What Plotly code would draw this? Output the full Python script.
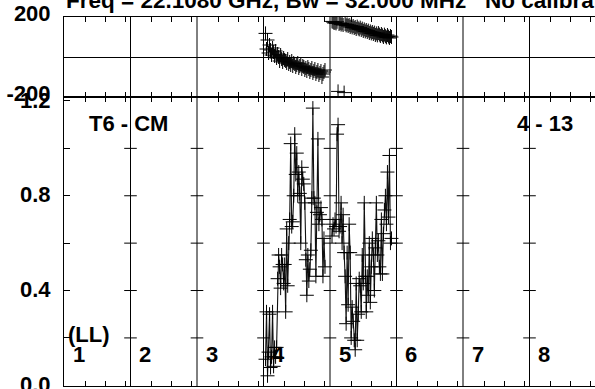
import plotly.graph_objects as go

# ---------------- data ----------------
panel_labels = ["1", "2", "3", "4", "5", "6", "7", "8"]
panel_width = 66                      # channel units per baseline panel
channels = list(range(1, 61))
tick_channels = [20, 40, 60]

amp_p4 = [0.11, 0.31, 0.04, 0.14, 0.30, 0.075, 0.12, 0.31, 0.08, 0.16,
          0.12, 0.16, 0.45, 0.55, 0.50, 0.41, 0.55, 0.51, 0.43, 0.51,
          0.31, 0.66, 0.42, 0.60, 0.70, 1.02, 0.67, 0.69, 0.80, 1.06,
          0.89, 0.98, 0.80, 0.90, 0.81, 0.60, 0.92, 0.87, 0.85, 0.77,
          0.53, 0.38, 0.55, 0.44, 0.49, 0.57, 0.79, 1.17, 0.79, 0.77,
          0.46, 0.73, 1.04, 0.68, 0.72, 0.75, 0.70, 0.46, 0.62, 0.50]
amp_p5 = [0.63, 0.68, 0.66, 0.70, 0.67, 1.06, 1.10, 0.65, 0.67, 0.77,
          0.60, 0.72, 0.56, 0.46, 0.26, 0.56, 0.34, 0.68, 0.56, 0.20,
          0.33, 0.27, 0.19, 0.15, 0.43, 0.19, 0.30, 0.45, 0.42, 0.31,
          0.55, 0.43, 0.77, 0.46, 0.31, 0.46, 0.38, 0.60, 0.35, 0.50,
          0.62, 0.55, 0.40, 0.58, 0.77, 0.55, 0.61, 0.50, 0.47, 0.70,
          0.47, 0.64, 0.74, 0.80, 0.68, 0.90, 0.71, 0.97, 0.60, 0.62]
phase_p4 = [118, 40, 85, 20, 60, 35, 10, 45, 25, 5,
            30, -5, 15, 0, -20, 10, -10, -25, -5, -15,
            -20, -30, -10, -35, -25, -40, -20, -45, -30, -35,
            -50, -40, -30, -55, -45, -35, -60, -45, -50, -65,
            -55, -70, -50, -60, -75, -65, -55, -80, -70, -60,
            -85, -75, -65, -90, -80, -70, -100, -85, -75, -65]
phase_p5 = [178, 175, 170, 172, 168, 176, -172, 165, 170, 162,
            168, 160, -178, 165, 158, 163, 155, 160, 150, 157,
            148, 155, 145, 150, 140, 152, 143, 138, 147, 135,
            142, 130, 138, 128, 135, 125, 132, 120, 128, 118,
            125, 115, 122, 110, 118, 108, 120, 112, 105, 115,
            108, 100, 112, 104, 98, 110, 102, 95, 105, 100]

amp_tickvals = [0.0, 0.2, 0.4, 0.6, 0.8, 1.0, 1.2]
amp_ticktext = ["0.0", "", "0.4", "", "0.8", "", "1.2"]
phase_tickvals = [-200, 200]
phase_ticktext = ["-200", "200"]
boundary_tick_amps = [0.2, 0.4, 0.6, 0.8, 1.0]

title_main = "Freq = 22.1080 GHz, Bw = 32.000 MHz"
title_tail = "No calibration"
source_text = "T6 - CM"
scan_text = "4 - 13"
pol_text = "(LL)"

# ---------------- figure ----------------
def xpos(panel_index, chans):
    return [panel_index * panel_width + c + 1 for c in chans]

INK = "#000000"
FONT = dict(family="Liberation Sans, Arial, sans-serif", size=22, color=INK, weight="bold")
cross = dict(symbol="cross-thin-open", size=10, line=dict(color=INK, width=1), color=INK)

fig = go.Figure()

# amplitude (lower panel)
for p, amp in [(3, amp_p4), (4, amp_p5)]:
    fig.add_trace(go.Scatter(x=xpos(p, channels), y=amp, mode="lines+markers",
                             line=dict(color="#111111", width=1.1), marker=cross,
                             xaxis="x", yaxis="y", showlegend=False, hoverinfo="skip"))
# phase (upper panel)
for p, ph in [(3, phase_p4), (4, phase_p5)]:
    fig.add_trace(go.Scatter(x=xpos(p, channels), y=ph, mode="markers", marker=cross,
                             xaxis="x2", yaxis="y2", showlegend=False, hoverinfo="skip"))

# y-ticks drawn on each inner panel boundary
bx, by = [], []
for p in range(1, len(panel_labels)):
    for a in boundary_tick_amps:
        bx.append(p * panel_width)
        by.append(a)
fig.add_trace(go.Scatter(x=bx, y=by, mode="markers",
                         marker=dict(symbol="line-ew-open", size=9, color=INK,
                                     line=dict(color=INK, width=1)),
                         xaxis="x", yaxis="y", showlegend=False, hoverinfo="skip"))

# panel boundary lines
for p in range(1, len(panel_labels)):
    fig.add_shape(type="line", xref="x", yref="paper", x0=p * panel_width, x1=p * panel_width,
                  y0=0, y1=1, line=dict(color=INK, width=1))

xtickvals = [p * panel_width + c + 1 for p in range(len(panel_labels)) for c in tick_channels]
split = 1 - 80 / 369
xcommon = dict(range=[0, 527], tickvals=xtickvals, ticks="inside", ticklen=5, tickwidth=1,
               tickcolor=INK, showticklabels=False, showline=True, linecolor=INK, linewidth=1,
               mirror="ticks", showgrid=False, zeroline=False, fixedrange=True, automargin=False)

fig.update_layout(
    width=595, height=389,
    margin=dict(l=64, r=0, t=17, b=3),
    paper_bgcolor="white", plot_bgcolor="white",
    font=FONT,
    xaxis=dict(anchor="y", **xcommon),
    xaxis2=dict(anchor="y2", matches="x", **xcommon),
    yaxis=dict(domain=[0, split], range=[-0.003, 289 / 237.5], tickvals=amp_tickvals,
               ticktext=amp_ticktext, ticks="inside", ticklen=6, tickcolor=INK,
               showline=True, linecolor=INK, linewidth=1, showgrid=False, zeroline=False,
               tickfont=FONT, ticklabelstandoff=8, ticklabelshift=-1, automargin=False,
               ticklabeloverflow="allow", fixedrange=True),
    yaxis2=dict(domain=[split, 1], range=[-200, 200], tickvals=phase_tickvals,
                ticktext=phase_ticktext, ticks="", showline=True, linecolor=INK, linewidth=1,
                showgrid=False, zeroline=True, zerolinecolor=INK, zerolinewidth=1,
                tickfont=FONT, ticklabelstandoff=8, ticklabelshift=-4, automargin=False,
                ticklabeloverflow="allow", fixedrange=True),
)

ann_font = dict(family="Liberation Sans, Arial, sans-serif", size=22, color=INK, weight="bold")
title_font = dict(family="Liberation Sans, Arial, sans-serif", size=22.5, color=INK, weight="bold")
fig.add_annotation(text=title_main, xref="paper", yref="paper", x=0, y=1.006,
                   xanchor="left", yanchor="bottom", showarrow=False, font=title_font)
fig.add_annotation(text=title_tail, xref="paper", yref="paper", x=(483 - 64) / 531, y=1.006,
                   xanchor="left", yanchor="bottom", showarrow=False, font=title_font)
fig.add_annotation(text=source_text, xref="x", yref="y", x=22.8, y=1.107,
                   xanchor="left", yanchor="middle", showarrow=False, font=ann_font)
fig.add_annotation(text=scan_text, xref="x", yref="y", x=447.6, y=1.107,
                   xanchor="left", yanchor="middle", showarrow=False, font=ann_font)
fig.add_annotation(text=pol_text, xref="x", yref="y", x=2, y=0.215,
                   xanchor="left", yanchor="middle", showarrow=False, font=ann_font)
for p, lab in enumerate(panel_labels):
    fig.add_annotation(text=lab, xref="x", yref="y", x=p * panel_width + 14.5, y=0.128,
                       xanchor="center", yanchor="middle", showarrow=False, font=ann_font)

fig.write_html("out.html", config={"displayModeBar": False, "staticPlot": True},
               post_script="document.body.style.margin='0';document.body.style.overflow='hidden';")
